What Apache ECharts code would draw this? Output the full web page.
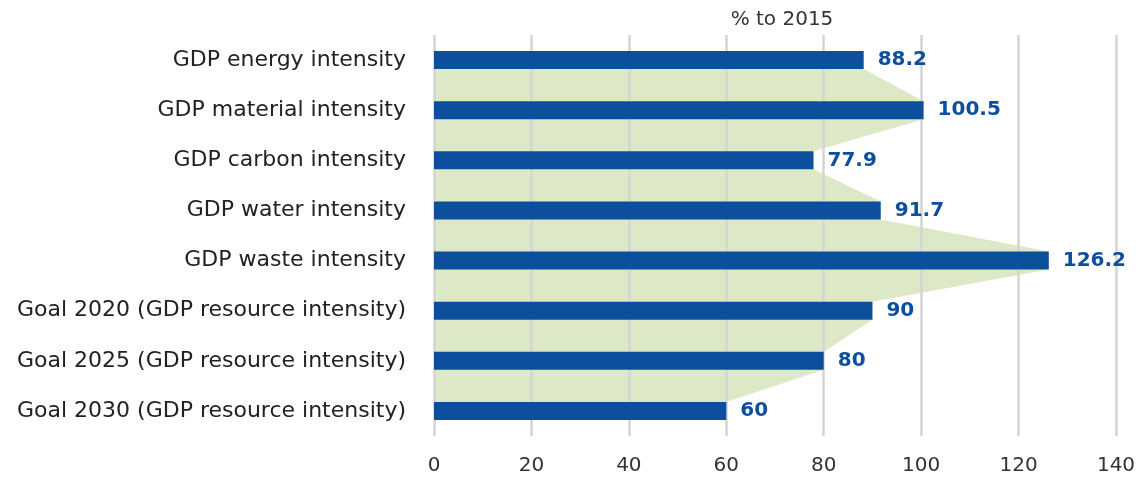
<!DOCTYPE html>
<html><head><meta charset="utf-8">
<script src="https://cdn.jsdelivr.net/npm/echarts@6/dist/echarts.min.js"></script>
<style>html,body{margin:0;padding:0;background:#fff}#c{width:1145px;height:481px}</style>
</head><body><div id="c"></div>
<script>
const categories = [
  'GDP energy intensity',
  'GDP material intensity',
  'GDP carbon intensity',
  'GDP water intensity',
  'GDP waste intensity',
  'Goal 2020 (GDP resource intensity)',
  'Goal 2025 (GDP resource intensity)',
  'Goal 2030 (GDP resource intensity)'
];
const values = [88.2, 100.5, 77.9, 91.7, 126.2, 90, 80, 60];
const axisName = '% to 2015';
const xTicks = [0, 20, 40, 60, 80, 100, 120, 140];

const BAR_W = 18;
const FONT = 'DejaVu Sans';
const chart = echarts.init(document.getElementById('c'));
chart.setOption({
  animation: false,
  title: { text: axisName, left: 777, top: 5, textAlign: 'center',
    textStyle: { fontFamily: FONT, fontSize: 20, fontWeight: 'normal', color: '#333' } },
  grid: { left: 434, right: 29, top: 35, bottom: 45, containLabel: false },
  xAxis: {
    type: 'value', min: xTicks[0], max: xTicks[xTicks.length - 1], interval: 20,
    axisLine: { show: false }, axisTick: { show: false },
    axisLabel: { fontFamily: FONT, fontSize: 20, color: '#333', margin: 20 },
    splitLine: { show: true, lineStyle: { color: '#d4d4d4', width: 2.5 } }
  },
  yAxis: {
    type: 'category', data: categories, inverse: true,
    axisLine: { show: false }, axisTick: { show: false },
    axisLabel: { fontFamily: FONT, fontSize: 22, color: '#222', margin: 28, padding: [4, 0, 0, 0] }
  },
  series: [
    {
      type: 'custom', z: -1, silent: true,
      data: values.map((v, i) => [v, i]),
      encode: { x: 0, y: 1 },
      renderItem: function (params, api) {
        if (params.dataIndex !== 0) return null;
        const h = BAR_W / 2;
        const pts = [];
        values.forEach((v, i) => {
          const p = api.coord([v, i]);
          pts.push([p[0], p[1] - h], [p[0], p[1] + h]);
        });
        const last = api.coord([0, values.length - 1]);
        const first = api.coord([0, 0]);
        pts.push([last[0], last[1] + h], [first[0], first[1] - h]);
        return { type: 'polygon', shape: { points: pts }, style: { fill: '#dde9c6' } };
      }
    },
    {
      type: 'bar', data: values, barWidth: BAR_W,
      itemStyle: { color: '#0c4f9c' },
      label: { show: true, position: 'right', distance: 14, color: '#0c4f9c',
        fontFamily: FONT, fontSize: 20, fontWeight: 'bold', padding: [3, 0, 0, 0] }
    }
  ]
});
</script></body></html>
